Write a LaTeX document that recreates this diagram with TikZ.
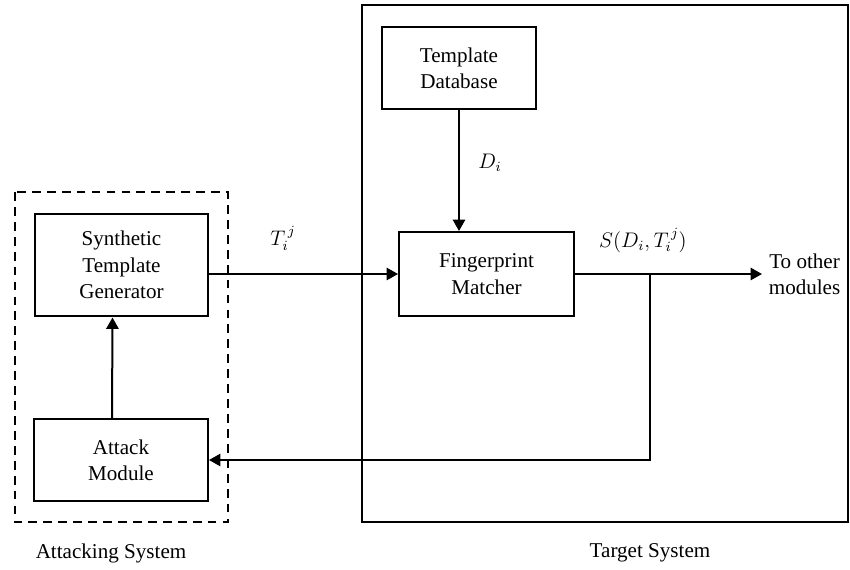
\documentclass[tikz,border=0pt]{standalone}
\usepackage{fontspec}
\setmainfont{Liberation Serif}
\usetikzlibrary{arrows.meta}

\begin{document}
\begin{tikzpicture}[x=0.02cm,y=-0.02cm,line width=0.04cm,
    >={Triangle[length=6.5pt,width=7pt]},
    every node/.style={font=\fontsize{12}{15}\selectfont,align=center}]

        \useasboundingbox (0,0) rectangle (850,569);

        % the two systems
        \draw[dash pattern=on 5pt off 3.5pt] (15,192) rectangle (228,522);
        \draw (362,5) rectangle (848,522);

        \begin{scope}[every node/.style={draw,rectangle,inner sep=0pt,
            font=\fontsize{12}{15}\selectfont,align=center}]
          \node[minimum width=3.46cm,minimum height=2.06cm] (gen)   at (121.5,265) {Synthetic\\Template\\Generator};
          \node[minimum width=3.48cm,minimum height=1.64cm] (atk)   at (121,460)   {Attack\\Module};
          \node[minimum width=3.08cm,minimum height=1.64cm] (db)    at (459,68)    {Template\\Database};
          \node[minimum width=3.5cm,minimum height=1.68cm]  (match) at (486.5,274) {Fingerprint\\Matcher};
        \end{scope}

        \node[anchor=west] (other) at (762,274) {To other\\modules};
        \coordinate (split) at (650,274);
        \coordinate (back)  at (650,460);

        \begin{scope}[every edge/.style={draw,->}]
          \path (match.west -| gen.east) edge (match.west);
          \path (db.south) edge (db.south |- match.north);
          \path (match.east) edge (other.west);
          \path ([xshift=-0.18cm]atk.north) edge ([xshift=-0.18cm]gen.south);
        \end{scope}
        \draw[->] (split) -- (back) -- (atk.east);

        % labels
        \node (tij)  at (283,238) {$T_i^{\,j}$};
        \node (di)   at (490,163) {$D_i$};
        \node (sdt)  at (643,240) {$S(D_i,T_i^{\,j})$};
        \node (asys) at (111,553) {Attacking System};
        \node (tsys) at (650,553) {Target System};

      \end{tikzpicture}
\end{document}
